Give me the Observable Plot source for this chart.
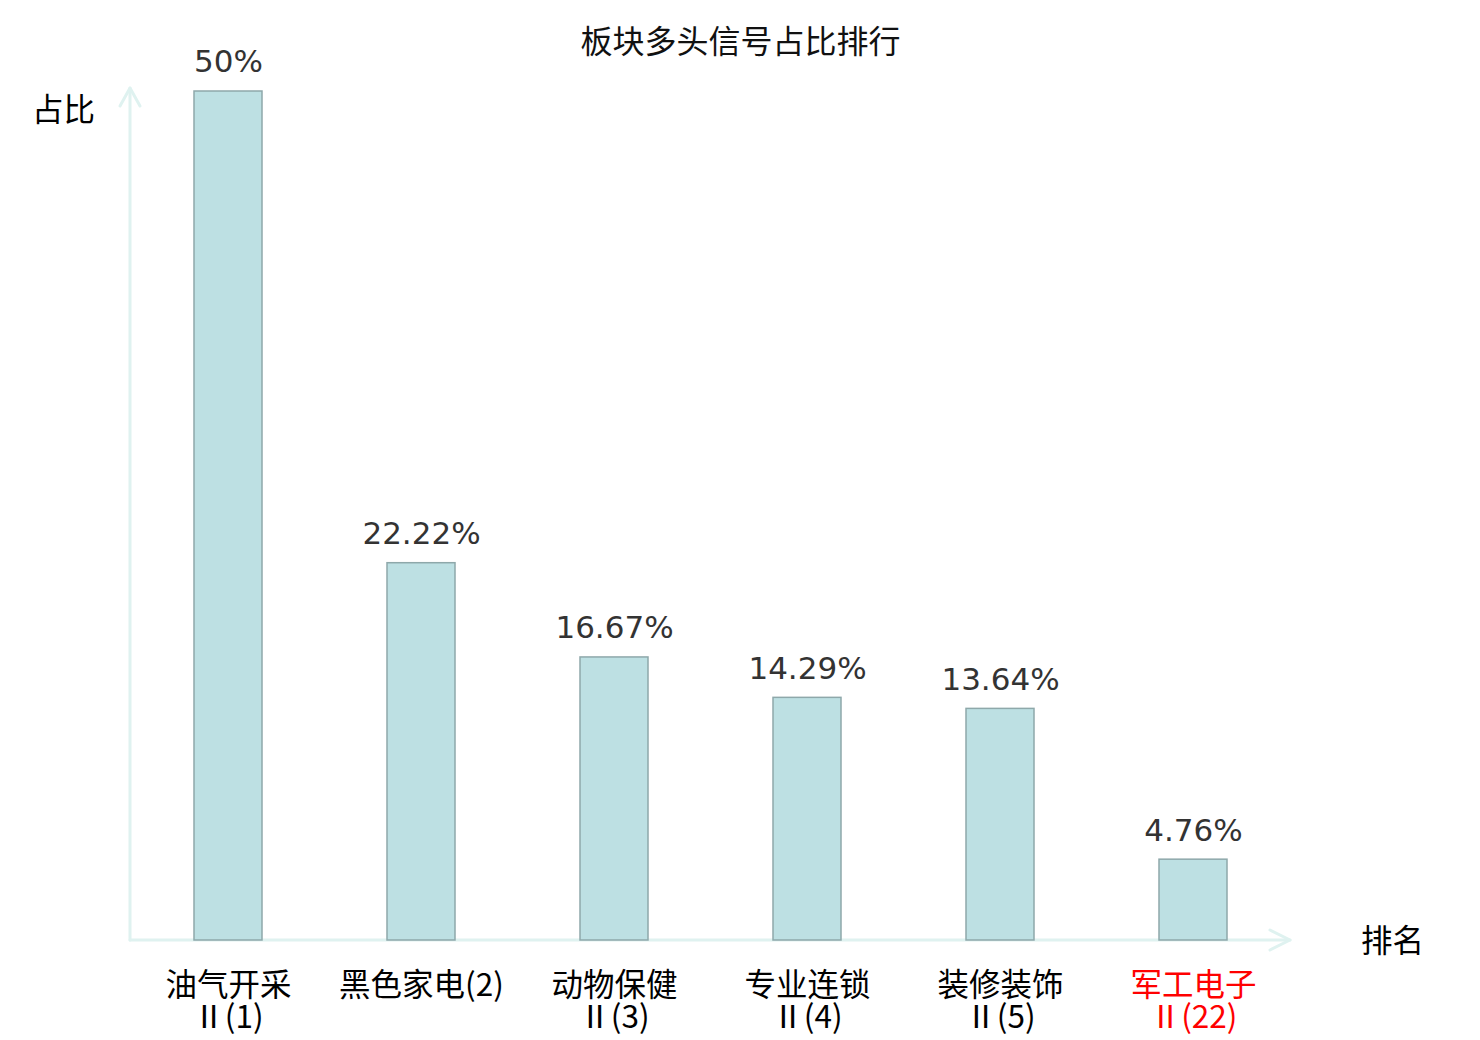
<!DOCTYPE html>
<html>
<head>
<meta charset="utf-8">
<script src="https://cdn.jsdelivr.net/npm/d3@7"></script>
<script src="https://cdn.jsdelivr.net/npm/@observablehq/plot@0.6"></script>
<style>
  html, body { margin: 0; padding: 0; background: #fff; }
  #chart svg { display: block; }
</style>
</head>
<body>
<div id="chart"></div>
<script>
const categories = ["油气开采\nⅡ(1)", "黑色家电(2)", "动物保健\nⅡ(3)", "专业连锁\nⅡ(4)", "装修装饰\nⅡ(5)", "军工电子\nⅡ(22)"];
const values = [50, 22.22, 16.67, 14.29, 13.64, 4.76];
const labelColors = ["#000", "#000", "#000", "#000", "#000", "#f00"];
const titleText = "板块多头信号占比排行";
const yLabel = "占比";
const xLabel = "排名";

const data = categories.map((c, i) => ({cat: c, value: values[i], color: labelColors[i]}));

const axisColor = "#dff2f0";

function axesArrows(index, scales, values, dims) {
  const g = d3.create("svg:g").attr("fill", "none").attr("stroke", axisColor)
    .attr("stroke-width", 3).attr("stroke-linecap", "round").attr("stroke-linejoin", "round");
  const x0 = dims.marginLeft, x1 = dims.width - dims.marginRight;
  const y0 = scales.y(0), yTop = dims.marginTop - 3;
  g.append("path").attr("d", `M${x0},${y0}H${x1}`);
  g.append("path").attr("d", `M${x1 - 20},${y0 - 10}L${x1},${y0}L${x1 - 20},${y0 + 10}`);
  g.append("path").attr("d", `M${x0},${y0}V${yTop}`);
  g.append("path").attr("d", `M${x0 - 10},${yTop + 18}L${x0},${yTop}L${x0 + 10},${yTop + 18}`);
  return g.node();
}

const chart = Plot.plot({
  width: 1480,
  height: 1040,
  marginLeft: 130,
  marginRight: 190,
  marginTop: 91,
  marginBottom: 100,
  style: {background: "#fff"},
  x: {domain: categories, paddingInner: 0.65, paddingOuter: 0.325, axis: null},
  y: {domain: [0, 50], axis: null},
  marks: [
    axesArrows,
    Plot.barY(data, {x: "cat", y: "value", fill: "#bde0e3", stroke: "#8ea8aa", strokeWidth: 1.5}),
    Plot.text(data, {x: "cat", y: "value", text: d => d.value + "%", dy: -29, fontSize: 31,
      fill: "#333", fontFamily: "DejaVu Sans"}),
    Plot.text(data, {x: "cat", y: () => 0, text: "cat", fill: "color", lineAnchor: "top", dy: 32,
      fontSize: 31.5, lineHeight: 1.03, fontFamily: "Noto Sans CJK SC"}),
    Plot.text([titleText], {frameAnchor: "top", lineAnchor: "middle", text: d => d, dx: 30, dy: -49,
      fontSize: 32, fill: "#111", fontFamily: "Noto Sans CJK SC"}),
    Plot.text([yLabel], {frameAnchor: "top-left", lineAnchor: "middle", text: d => d, textAnchor: "middle",
      dx: -67, dy: 19, fontSize: 31.5, fill: "#000", fontFamily: "Noto Sans CJK SC"}),
    Plot.text([xLabel], {frameAnchor: "bottom-right", lineAnchor: "middle", text: d => d, textAnchor: "middle",
      dx: 102, dy: 1, fontSize: 31.5, fill: "#000", fontFamily: "Noto Sans CJK SC"})
  ]
});
document.getElementById("chart").appendChild(chart);
</script>
</body>
</html>
